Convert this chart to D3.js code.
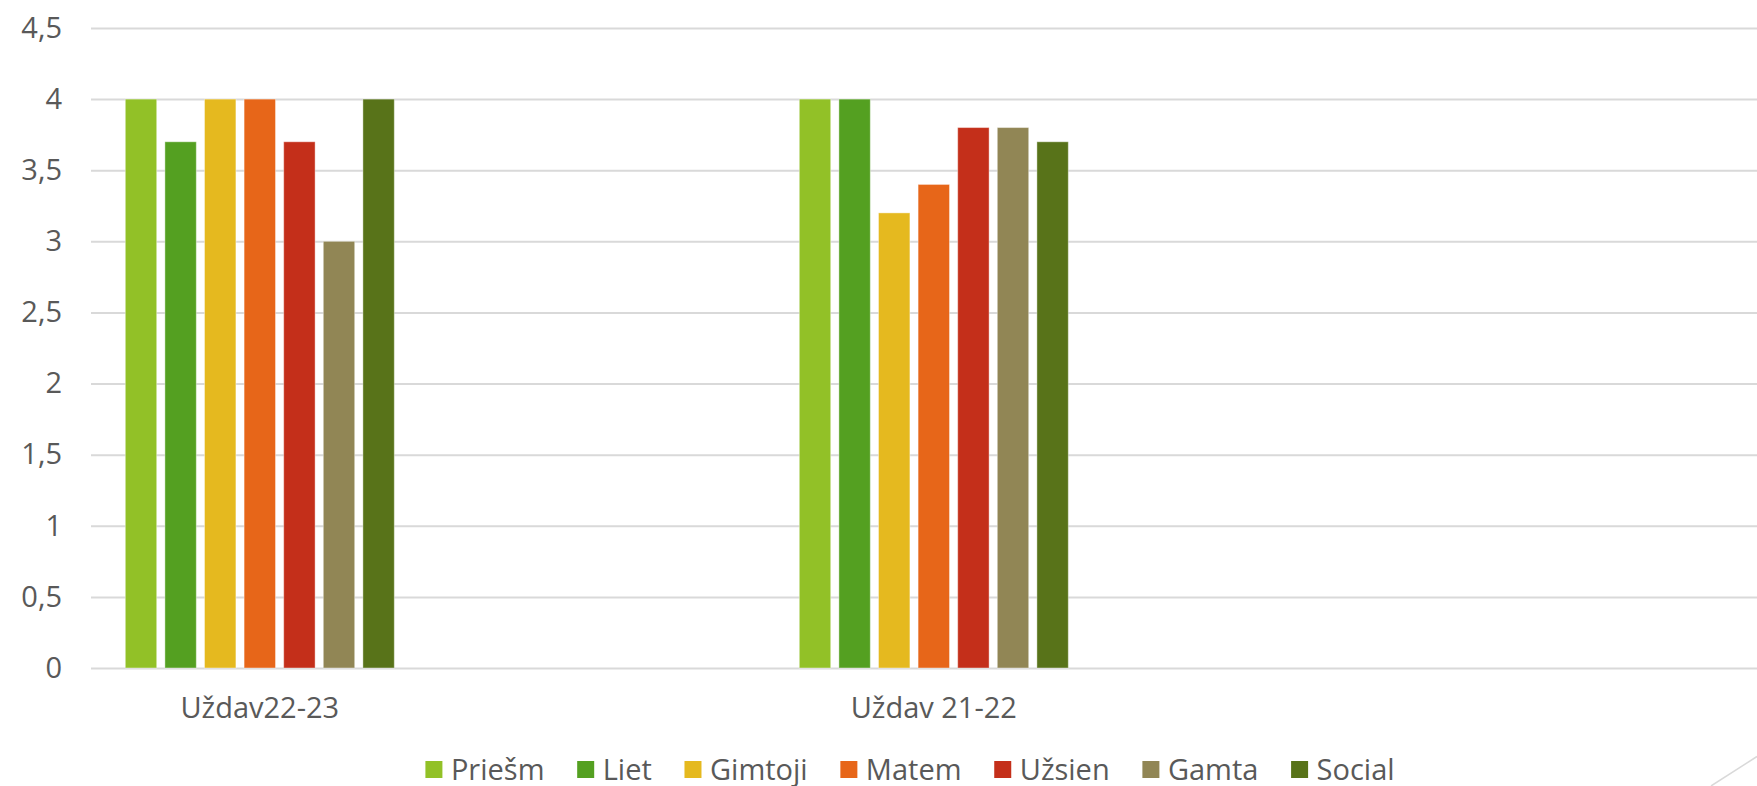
<!--
Grouped bar chart: subject results by task set
-->
<html>
<head>
<meta charset="utf-8">
<script src="https://d3js.org/d3.v7.min.js"></script>
<style>
  body { margin: 0; background: #fff; }
  text { font-family: "Open Sans", sans-serif; fill: #595959; }
</style>
</head>
<body>
<script>
// data
var categories = ["Uždav22-23", "Uždav 21-22"];
var series = ["Priešm", "Liet", "Gimtoji", "Matem", "Užsien", "Gamta", "Social"];
var values2223 = [4, 3.7, 4, 4, 3.7, 3, 4];
var values2122 = [4, 4, 3.2, 3.4, 3.8, 3.8, 3.7];
var colors = ["#92c127", "#54a021", "#e5b91f", "#e76619", "#c42f1a", "#918655", "#587319"];
var yTicks = [0, 0.5, 1, 1.5, 2, 2.5, 3, 3.5, 4, 4.5];

var width = 1757, height = 786;
var plotLeft = 91, plotTop = 28, plotBottom = 668;

var rows = categories.map((c, i) => ({
  cat: c,
  vals: series.map((s, j) => ({ name: s, value: [values2223, values2122][i][j], color: colors[j] }))
}));

var svg = d3.select("body").append("svg")
  .attr("width", width)
  .attr("height", height);

var y = d3.scaleLinear()
  .domain([0, 4.5])
  .range([plotBottom, plotTop]);

// category slots are wide, the chart looks cropped on the left / right
var catStep = 674;
var x0 = d3.scaleBand()
  .domain(categories)
  .range([259.8 - catStep / 2, 259.8 - catStep / 2 + catStep * categories.length])
  .padding(0);

var clusterW = 269;
var x1 = d3.scaleBand()
  .domain(series)
  .range([(x0.bandwidth() - clusterW) / 2, (x0.bandwidth() + clusterW) / 2])
  .paddingInner(0.207)
  .paddingOuter(0);

// gridlines + y labels
var yAxis = svg.append("g")
  .attr("transform", "translate(" + plotLeft + ",0)")
  .call(d3.axisLeft(y)
    .tickValues(yTicks)
    .tickSize(-(width - plotLeft))
    .tickPadding(29)
    .tickFormat(d => String(d).replace(".", ",")));
yAxis.select(".domain").remove();
yAxis.selectAll("line").attr("stroke", "#d9d9d9").attr("stroke-width", 2);
yAxis.selectAll("text").style("font-size", "29px").style("fill", "#595959")
  .style("font-family", "'Open Sans', sans-serif");

// bars
var groups = svg.selectAll("g.cat")
  .data(rows)
  .enter().append("g")
  .attr("class", "cat")
  .attr("transform", d => "translate(" + x0(d.cat) + ",0)");

groups.selectAll("rect")
  .data(d => d.vals)
  .enter().append("rect")
  .attr("x", d => x1(d.name))
  .attr("width", x1.bandwidth())
  .attr("y", d => y(d.value))
  .attr("height", d => y(0) - y(d.value))
  .attr("fill", d => d.color)
  .attr("stroke", "#ffffff")
  .attr("stroke-opacity", 0.4)
  .attr("stroke-width", 1);

// category labels
var xAxis = svg.append("g")
  .attr("transform", "translate(0," + plotBottom + ")")
  .call(d3.axisBottom(x0).tickSize(0).tickPadding(29));
xAxis.select(".domain").remove();
xAxis.selectAll("text").style("font-size", "29px").style("fill", "#595959")
  .style("font-family", "'Open Sans', sans-serif");

// legend
var legend = svg.append("g");
var lx = 0;
series.forEach((s, i) => {
  var item = legend.append("g").attr("transform", "translate(" + lx + ",0)");
  item.append("rect")
    .attr("x", 0).attr("y", -8.5)
    .attr("width", 17).attr("height", 17)
    .attr("fill", colors[i]);
  var t = item.append("text")
    .attr("x", 25.5)
    .attr("y", 10)
    .style("font-size", "29px")
    .text(s);
  lx += 25.5 + t.node().getComputedTextLength() + 32.7;
});
var legendW = lx - 32.7;
legend.attr("transform", "translate(" + (910 - legendW / 2) + ",769.5)");

// slide corner decoration
svg.append("line")
  .attr("x1", 1757).attr("y1", 756.5)
  .attr("x2", 1711).attr("y2", 786)
  .attr("stroke", "#d9d9d9")
  .attr("stroke-width", 1.5);
</script>
</body>
</html>
